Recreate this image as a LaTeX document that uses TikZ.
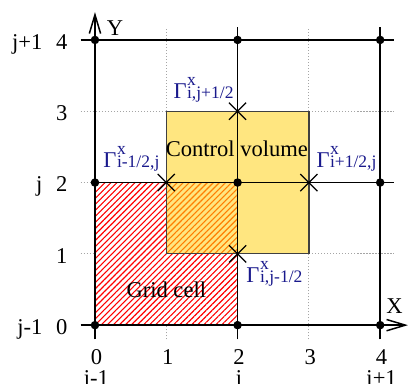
\documentclass[tikz,border=0pt]{standalone}
\usepackage{fontspec}
\setmainfont{Liberation Serif}
\usetikzlibrary{arrows.meta,patterns.meta,calc}
\definecolor{cvyellow}{RGB}{255,230,128}
\definecolor{gblue}{RGB}{25,25,140}
\definecolor{dotgray}{RGB}{165,165,165}
\definecolor{hatchorange}{RGB}{255,125,0}
\newcommand\glabtext[1]{Γ\kern0.2pt\rlap{\raisebox{5.2pt}{\fontsize{7}{7}\selectfont x}}{\fontsize{7}{7}\selectfont #1}}
\begin{document}
\begin{tikzpicture}[
  x=1cm,y=1cm,
  every node/.style={font=\fontsize{9}{10}\selectfont, inner sep=0pt},
  gridline/.style={line width=0.6pt, black},
  dotline/.style={line width=0.45pt, dotgray, dash pattern=on 0.45pt off 0.75pt},
  axisarrow/.style={line width=0.6pt, -{Straight Barb[length=7.5pt,width=4.5pt,line width=0.6pt]}},
  cvbox/.style={fill=cvyellow, draw=black!75, line width=0.5pt},
  redhatch/.style={pattern={Lines[angle=45,distance=1.7pt,line width=0.45pt]}, pattern color=red},
  orangehatch/.style={pattern={Lines[angle=45,distance=1.7pt,line width=0.45pt]}, pattern color=hatchorange},
  crossmark/.style={line width=0.5pt, black},
  gdot/.style={circle, fill=black, minimum size=3.4pt, inner sep=0pt},
  glab/.style={text=gblue, anchor=base west},
  ticklab/.style={anchor=base east},
  xticklab/.style={anchor=base},
]
\useasboundingbox (-1.332,-0.825) rectangle (4.404,4.56);

% dotted helper grid
\foreach \v in {1,3} {
  \draw[dotline] (\v,-0.2) -- (\v,4.18);
  \draw[dotline] (-0.2,\v) -- (4.2,\v);
}
\draw[dotline] (-0.2,2) -- (0,2);

% grid cell (hatched)
\fill[white] (0,0) rectangle (2,2);
\fill[redhatch] (0,0) rectangle (2,2);

% control volume
\draw[cvbox] (1,1) rectangle (3,3);
\fill[orangehatch] (1,1) rectangle (2,2);
\draw[black!75, line width=0.5pt] (1,1) rectangle (3,3);

% solid grid lines
\draw[gridline] (-0.2,4) -- (4.2,4);
\draw[gridline] (0,2) -- (4.2,2);
\draw[gridline] (2,-0.2) -- (2,4.18);
\draw[gridline] (4,-0.2) -- (4,4.18);

% axes
\coordinate (ybot) at (0,-0.2);
\coordinate (ytop) at (0,4.39);
\coordinate (xleft) at (-0.2,0);
\coordinate (xright) at (4.39,0);
\draw[axisarrow] (ybot) -- (ytop);
\draw[axisarrow] (xleft) -- (xright);
\node (Ylab) at (0.28,4.17) {Y};
\node (Xlab) at (4.2,0.27) {X};

% nodes (dots)
\foreach \i in {0,2,4} {
  \foreach \j in {0,2,4} {
    \node[gdot] (d\i\j) at (\i,\j) {};
  }
}

% crosses at faces
\coordinate (ct) at (2,3);
\coordinate (cl) at (1,2);
\coordinate (cr) at (3,2);
\coordinate (cb) at (2,1);
\foreach \n in {ct,cl,cr,cb} {
  \draw[crossmark] ($(\n)+(-0.12,-0.12)$) -- ($(\n)+(0.12,0.12)$);
  \draw[crossmark] ($(\n)+(-0.12,0.12)$) -- ($(\n)+(0.12,-0.12)$);
}

% face labels
\node[glab] (gt) at ($(ct)+(-0.905,0.175)$) {\glabtext{i,j+1/2}};
\node[glab] (gl) at ($(cl)+(-0.888,0.21)$) {\glabtext{i-1/2,j}};
\node[glab] (gr) at ($(cr)+(0.10,0.21)$) {\glabtext{i+1/2,j}};
\node[glab] (gb) at ($(cb)+(0.118,-0.40)$) {\glabtext{i,j-1/2}};

% region labels
\node[anchor=base] (cvlab) at (1.99,2.36) {Control volume};
\node[anchor=base] (gclab) at (1.0,0.39) {Grid cell};

% y tick labels
\foreach \v in {0,1,2,3,4} {
  \node[ticklab] (yt\v) at (-0.38,\v-0.13) {\v};
}
\node[ticklab] (yj0) at (-0.73,-0.13) {j-1};
\node[ticklab] (yj2) at (-0.73,1.87) {j};
\node[ticklab] (yj4) at (-0.73,3.87) {j+1};

% x tick labels
\foreach \v in {0,1,2,3,4} {
  \node[xticklab] (xt\v) at (\v+0.02,-0.545) {\v};
}
\node[xticklab] (xi0) at (0.02,-0.84) {i-1};
\node[xticklab] (xi2) at (2.02,-0.84) {i};
\node[xticklab] (xi4) at (4.02,-0.84) {i+1};
\end{tikzpicture}
\end{document}
